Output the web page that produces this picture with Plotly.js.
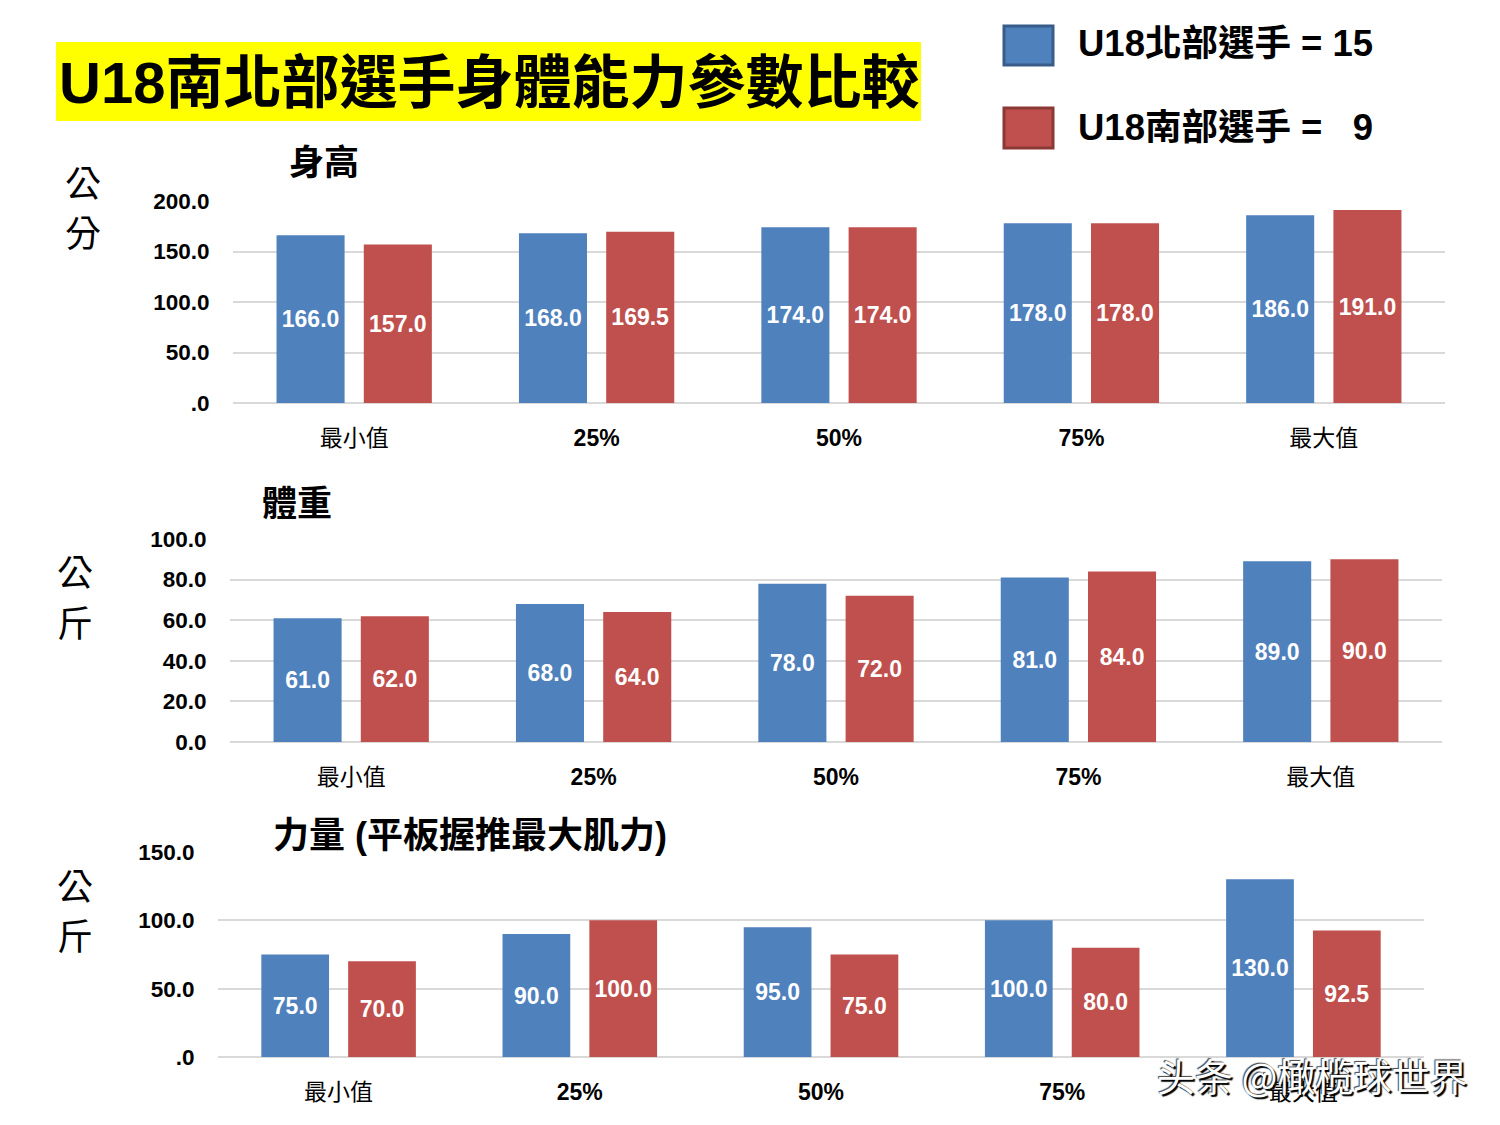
<!DOCTYPE html>
<html>
<head>
<meta charset="utf-8">
<script src="https://cdn.plot.ly/plotly-3.0.1.min.js"></script>
<style>
  html, body { margin: 0; padding: 0; background: #fff; }
  #plot { width: 1500px; height: 1125px; }
</style>
</head>
<body>
<div id="plot"></div>
<script>
var categories = ['最小值', '25%', '50%', '75%', '最大值'];
var categoryLabels = ['最小值', '<b>25%</b>', '<b>50%</b>', '<b>75%</b>', '最大值'];

var heightNorth = [166.0, 168.0, 174.0, 178.0, 186.0];
var heightSouth = [157.0, 169.5, 174.0, 178.0, 191.0];

var weightNorth = [61.0, 68.0, 78.0, 81.0, 89.0];
var weightSouth = [62.0, 64.0, 72.0, 84.0, 90.0];

var benchNorth = [75.0, 90.0, 95.0, 100.0, 130.0];
var benchSouth = [70.0, 100.0, 75.0, 80.0, 92.5];

var heightTicks = [0, 50, 100, 150, 200];
var heightTickText = ['.0', '50.0', '100.0', '150.0', '200.0'];
var weightTicks = [0, 20, 40, 60, 80, 100];
var weightTickText = ['0.0', '20.0', '40.0', '60.0', '80.0', '100.0'];
var benchTicks = [0, 50, 100, 150];
var benchTickText = ['.0', '50.0', '100.0', '150.0'];

var northName = 'U18北部選手 = 15';
var southName = 'U18南部選手 =\u00a0\u00a0\u00a09';

var BLUE = '#4F81BD';
var RED = '#C0504D';
var LATIN = 'Liberation Sans, Arial, Noto Sans CJK TC, sans-serif';

function barTrace(vals, name, color, xa, ya) {
  return {
    type: 'bar',
    x: categories,
    y: vals,
    name: name,
    xaxis: xa,
    yaxis: ya,
    marker: {color: color},
    texttemplate: '%{y:.1f}',
    textposition: 'inside',
    insidetextanchor: 'middle',
    textangle: 0,
    insidetextfont: {family: LATIN, size: 23, color: '#ffffff', weight: 'bold'},
    hoverinfo: 'none',
    showlegend: false
  };
}

var data = [
  barTrace(heightNorth, northName, BLUE, 'x', 'y'),
  barTrace(heightSouth, southName, RED, 'x', 'y'),
  barTrace(weightNorth, northName, BLUE, 'x2', 'y2'),
  barTrace(weightSouth, southName, RED, 'x2', 'y2'),
  barTrace(benchNorth, northName, BLUE, 'x3', 'y3'),
  barTrace(benchSouth, southName, RED, 'x3', 'y3')
];

function px(v) { return v / 1500; }
function py(v) { return 1 - v / 1125; }

function xAxis(x0, x1, anchor) {
  return {
    domain: [px(x0), px(x1)],
    anchor: anchor,
    type: 'category',
    tickvals: categories,
    ticktext: categoryLabels,
    ticks: 'outside', ticklen: 14, tickcolor: 'rgba(0,0,0,0)',
    tickfont: {family: LATIN, size: 23, color: '#000'},
    showgrid: false, showline: false, zeroline: false,
    fixedrange: true
  };
}

function yAxis(top, bottom, maxV, vals, text, anchor) {
  return {
    domain: [py(bottom), py(top)],
    anchor: anchor,
    range: [0, maxV],
    tickvals: vals,
    ticktext: text,
    ticks: 'outside', ticklen: 18, tickcolor: 'rgba(0,0,0,0)',
    tickfont: {family: LATIN, size: 22.5, color: '#000', weight: 'bold'},
    showgrid: true, gridcolor: '#d9d9d9', gridwidth: 2,
    zeroline: true, zerolinecolor: '#d9d9d9', zerolinewidth: 2,
    showline: false,
    fixedrange: true
  };
}

function note(text, x, y, font, opts) {
  var a = {
    text: text, xref: 'paper', yref: 'paper',
    x: px(x), y: py(y), xanchor: 'left', yanchor: 'middle',
    showarrow: false,
    font: font
  };
  for (var k in opts) a[k] = opts[k];
  return a;
}

var boldFont = function (size) { return {family: LATIN, size: size, color: '#000', weight: 'bold'}; };
var unitFont = {family: 'Noto Sans CJK TC, sans-serif', size: 36, color: '#000'};

var layout = {
  width: 1500, height: 1125,
  margin: {l: 0, r: 0, t: 0, b: 0},
  paper_bgcolor: '#ffffff',
  plot_bgcolor: '#ffffff',
  barmode: 'group',
  bargap: 0.28,
  bargroupgap: 0.22,
  showlegend: false,
  xaxis: xAxis(233, 1445, 'y'),
  yaxis: yAxis(201, 403, 200, heightTicks, heightTickText, 'x'),
  xaxis2: xAxis(230, 1442, 'y2'),
  yaxis2: yAxis(539, 742, 100, weightTicks, weightTickText, 'x2'),
  xaxis3: xAxis(218, 1424, 'y3'),
  yaxis3: yAxis(852, 1057, 150, benchTicks, benchTickText, 'x3'),
  shapes: [
    {type: 'rect', xref: 'paper', yref: 'paper', x0: px(56), x1: px(921), y0: py(121), y1: py(42),
     fillcolor: '#ffff00', line: {width: 0}, layer: 'below'},
    {type: 'rect', xref: 'paper', yref: 'paper', x0: px(1004), x1: px(1053), y0: py(65), y1: py(26),
     fillcolor: BLUE, line: {color: '#385D8A', width: 3}},
    {type: 'rect', xref: 'paper', yref: 'paper', x0: px(1004), x1: px(1053), y0: py(148), y1: py(108),
     fillcolor: RED, line: {color: '#8C3836', width: 3}}
  ],
  annotations: [
    note('U18南北部選手身體能力參數比較', 57, 83, boldFont(58)),
    note(northName, 1076, 44, boldFont(36.5)),
    note(southName, 1076, 127, boldFont(36.5)),
    note('身高', 287, 162, boldFont(35)),
    note('體重', 260, 503, boldFont(35)),
    note('力量 (平板握推最大肌力)', 271, 835, boldFont(36)),
    note('公', 83, 181, unitFont, {xanchor: 'center'}),
    note('分', 83, 231, unitFont, {xanchor: 'center'}),
    note('公', 75, 570, unitFont, {xanchor: 'center'}),
    note('斤', 75, 621, unitFont, {xanchor: 'center'}),
    note('公', 75, 884, unitFont, {xanchor: 'center'}),
    note('斤', 75, 934, unitFont, {xanchor: 'center'}),
    note('头条 @橄榄球世界', 1155, 1074, {family: 'Noto Sans CJK SC, sans-serif', size: 38, color: '#ffffff',
      shadow: '2px 2px 1px #000, -1px -1px 1px #444'})
  ]
};

Plotly.newPlot('plot', data, layout, {displayModeBar: false, staticPlot: true});
</script>
</body>
</html>
